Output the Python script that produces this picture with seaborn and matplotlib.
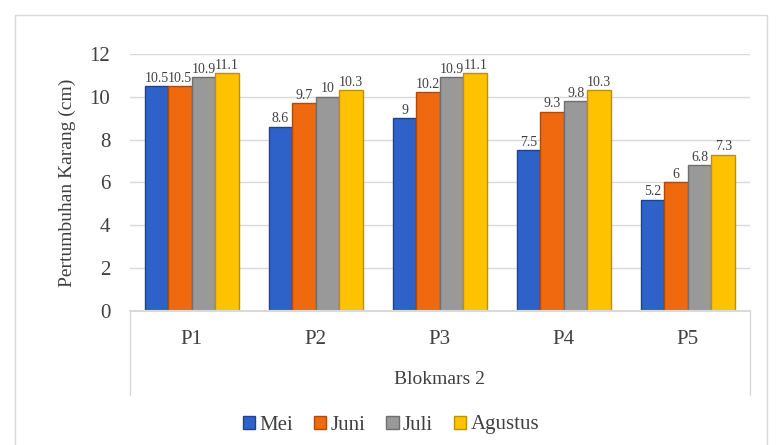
import pandas as pd
import seaborn as sns
import matplotlib.pyplot as plt
from matplotlib.patches import Rectangle
from matplotlib.lines import Line2D

# data
plots = ['P1', 'P2', 'P3', 'P4', 'P5']
mei = [10.5, 8.6, 9, 7.5, 5.2]
juni = [10.5, 9.7, 10.2, 9.3, 6]
juli = [10.9, 10, 10.9, 9.8, 6.8]
agustus = [11.1, 10.3, 11.1, 10.3, 7.3]
months = ['Mei', 'Juni', 'Juli', 'Agustus']

df = pd.DataFrame({'Plot': plots * 4,
                   'Bulan': sum([[m] * 5 for m in months], []),
                   'Nilai': mei + juni + juli + agustus})

colors = ['#2E62C9', '#F0690F', '#999999', '#FFC200']
edge_colors = ['#1D4390', '#B04A08', '#6E6E6E', '#BF9000']

sns.set_style('white')
plt.rcParams['font.family'] = ['Liberation Serif', 'DejaVu Serif']
txt = '#404040'

fig = plt.figure(figsize=(7.82, 4.45), dpi=100)
ax = fig.add_axes([0.166, 0.301, 0.793, 0.578])

sns.barplot(data=df, x='Plot', y='Nilai', hue='Bulan', palette=colors,
            width=0.76, gap=0, ax=ax, legend=False, saturation=1)

for cont, ec in zip(ax.containers, edge_colors):
    for bar in cont:
        bar.set_edgecolor(ec)
        bar.set_linewidth(1.0)
    ax.bar_label(cont, labels=[f'{v:g}' for v in cont.datavalues],
                 padding=1, fontsize=10, color=txt)

ax.set_ylim(0, 12)
ax.set_xlim(-0.5, 4.5)
ax.set_yticks(range(0, 13, 2))
ax.yaxis.grid(True, color='#D9D9D9', linewidth=1)
ax.set_axisbelow(True)
for s in ax.spines.values():
    s.set_visible(False)
ax.tick_params(axis='y', labelsize=15, colors=txt, length=0, pad=14)
ax.set_xticks([])
ax.set_xlabel('')
ax.set_ylabel('Pertumbuhan Karang (cm)', fontsize=14, color=txt, labelpad=10)

# category axis box
for i, p in enumerate(plots):
    fig.text(0.166 + 0.793 * (i + 0.5) / 5, 1 - 340 / 445, p, ha='center',
             va='center', fontsize=15, color=txt)
fig.text(0.166 + 0.793 / 2, 1 - 380 / 445, 'Blokmars 2', ha='center',
         va='center', fontsize=14, color=txt)
fig.add_artist(Line2D([0.166, 0.959], [0.301, 0.301], color='#D9D9D9', lw=1.5))
fig.add_artist(Line2D([0.166, 0.166], [0.301, 1 - 395 / 445], color='#D9D9D9', lw=1))
fig.add_artist(Line2D([0.959, 0.959], [0.301, 1 - 395 / 445], color='#D9D9D9', lw=1))

# legend
handles = [Rectangle((0, 0), 1, 1, facecolor=c, edgecolor=e) for c, e in zip(colors, edge_colors)]
fig.legend(handles, months, loc='center', bbox_to_anchor=(0.5, 1 - 425 / 445),
           ncol=4, frameon=False, fontsize=15, handlelength=0.6, handleheight=0.6,
           handletextpad=0.2, columnspacing=1.0, labelcolor=txt)

# outer chart border
fig.add_artist(Rectangle((15 / 782, -0.01), 752 / 782, 1 - 15 / 445 + 0.01,
                         transform=fig.transFigure, fill=False,
                         edgecolor='#D9D9D9', lw=1))

plt.savefig('out.png', dpi=100)
